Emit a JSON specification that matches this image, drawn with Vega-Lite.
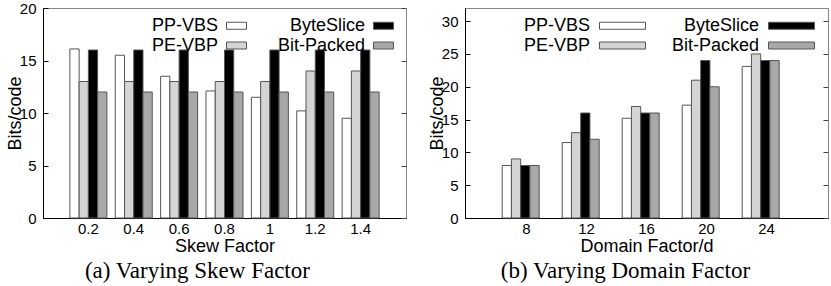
{
  "$schema": "https://vega.github.io/schema/vega-lite/v6.json",
  "padding": {"left": 5, "top": 0, "right": 4, "bottom": 2},
  "background": "white",
  "config": {
    "font": "Liberation Sans",
    "view": {"stroke": "#888888", "strokeWidth": 1},
    "axis": {
      "labelFont": "Liberation Sans", "labelFontSize": 15, "labelColor": "black",
      "titleFont": "Liberation Sans", "titleFontSize": 18, "titleFontWeight": "normal", "titleColor": "black",
      "grid": false, "domainColor": "black", "tickColor": "black"
    },
    "legend": {"labelFont": "Liberation Sans", "labelFontSize": 18, "labelColor": "black"},
    "title": {"font": "Liberation Serif", "fontSize": 23, "fontWeight": "normal", "color": "black"},
    "concat": {"spacing": 20}
  },
  "datasets": {
    "skew": [
      {"skew": "0.2", "series": "PP-VBS", "bits": 16.1},
      {"skew": "0.2", "series": "PE-VBP", "bits": 13},
      {"skew": "0.2", "series": "ByteSlice", "bits": 16},
      {"skew": "0.2", "series": "Bit-Packed", "bits": 12},
      {"skew": "0.4", "series": "PP-VBS", "bits": 15.5},
      {"skew": "0.4", "series": "PE-VBP", "bits": 13},
      {"skew": "0.4", "series": "ByteSlice", "bits": 16},
      {"skew": "0.4", "series": "Bit-Packed", "bits": 12},
      {"skew": "0.6", "series": "PP-VBS", "bits": 13.5},
      {"skew": "0.6", "series": "PE-VBP", "bits": 13},
      {"skew": "0.6", "series": "ByteSlice", "bits": 16},
      {"skew": "0.6", "series": "Bit-Packed", "bits": 12},
      {"skew": "0.8", "series": "PP-VBS", "bits": 12.1},
      {"skew": "0.8", "series": "PE-VBP", "bits": 13},
      {"skew": "0.8", "series": "ByteSlice", "bits": 16},
      {"skew": "0.8", "series": "Bit-Packed", "bits": 12},
      {"skew": "1", "series": "PP-VBS", "bits": 11.5},
      {"skew": "1", "series": "PE-VBP", "bits": 13},
      {"skew": "1", "series": "ByteSlice", "bits": 16},
      {"skew": "1", "series": "Bit-Packed", "bits": 12},
      {"skew": "1.2", "series": "PP-VBS", "bits": 10.2},
      {"skew": "1.2", "series": "PE-VBP", "bits": 14},
      {"skew": "1.2", "series": "ByteSlice", "bits": 16},
      {"skew": "1.2", "series": "Bit-Packed", "bits": 12},
      {"skew": "1.4", "series": "PP-VBS", "bits": 9.5},
      {"skew": "1.4", "series": "PE-VBP", "bits": 14},
      {"skew": "1.4", "series": "ByteSlice", "bits": 16},
      {"skew": "1.4", "series": "Bit-Packed", "bits": 12}
    ],
    "domain": [
      {"d": "8", "series": "PP-VBS", "bits": 8},
      {"d": "8", "series": "PE-VBP", "bits": 9},
      {"d": "8", "series": "ByteSlice", "bits": 8},
      {"d": "8", "series": "Bit-Packed", "bits": 8},
      {"d": "12", "series": "PP-VBS", "bits": 11.5},
      {"d": "12", "series": "PE-VBP", "bits": 13},
      {"d": "12", "series": "ByteSlice", "bits": 16},
      {"d": "12", "series": "Bit-Packed", "bits": 12},
      {"d": "16", "series": "PP-VBS", "bits": 15.2},
      {"d": "16", "series": "PE-VBP", "bits": 17},
      {"d": "16", "series": "ByteSlice", "bits": 16},
      {"d": "16", "series": "Bit-Packed", "bits": 16},
      {"d": "20", "series": "PP-VBS", "bits": 17.2},
      {"d": "20", "series": "PE-VBP", "bits": 21},
      {"d": "20", "series": "ByteSlice", "bits": 24},
      {"d": "20", "series": "Bit-Packed", "bits": 20},
      {"d": "24", "series": "PP-VBS", "bits": 23.1},
      {"d": "24", "series": "PE-VBP", "bits": 25},
      {"d": "24", "series": "ByteSlice", "bits": 24},
      {"d": "24", "series": "Bit-Packed", "bits": 24}
    ]
  },
  "resolve": {"scale": {"color": "independent"}, "legend": {"color": "independent"}},
  "hconcat": [
    {
      "width": 363,
      "height": 210,
      "data": {"name": "skew"},
      "title": {"text": "(a) Varying Skew Factor", "orient": "bottom", "anchor": "middle", "frame": "bounds", "offset": 5, "dx": -9},
      "layer": [
        {
          "mark": {"type": "bar", "stroke": "#555555", "strokeWidth": 1},
          "encoding": {
            "x": {
              "field": "skew", "type": "nominal", "sort": null,
              "scale": {"paddingInner": 0.185, "paddingOuter": 0.5925},
              "axis": {"title": "Skew Factor", "ticks": false, "labelAngle": 0, "labelPadding": 3, "titlePadding": 1}
            },
            "xOffset": {
              "field": "series", "type": "nominal",
              "sort": ["PP-VBS", "PE-VBP", "ByteSlice", "Bit-Packed"],
              "scale": {"paddingInner": 0, "paddingOuter": 0}
            },
            "y": {
              "field": "bits", "type": "quantitative",
              "scale": {"domain": [0, 20], "nice": false},
              "axis": {"title": "Bits/code", "values": [0, 5, 10, 15, 20], "tickSize": -5, "labelPadding": 12, "titlePadding": -5}
            },
            "color": {
              "field": "series", "type": "nominal",
              "scale": {"domain": ["PP-VBS", "ByteSlice", "PE-VBP", "Bit-Packed"], "range": ["#ffffff", "#000000", "#d4d4d4", "#a8a8a8"]},
              "legend": {
                "orient": "none", "legendX": 183, "legendY": 7, "columns": 2, "direction": "horizontal", "title": null,
                "symbolType": "M-1,-0.35H1V0.35H-1Z", "symbolSize": 400, "symbolStrokeColor": "#555555", "symbolStrokeWidth": 1, "symbolOpacity": 1,
                "labelAlign": "right", "labelOffset": -29, "columnPadding": 28, "rowPadding": -2, "padding": 0, "labelLimit": 300
              }
            }
          }
        },
        {
          "mark": {"type": "rule", "opacity": 0},
          "encoding": {
            "y": {
              "field": "bits", "type": "quantitative",
              "axis": {"orient": "right", "title": null, "labels": false, "domain": false, "values": [0, 5, 10, 15, 20], "tickSize": -5, "tickColor": "#444444"}
            }
          }
        }
      ],
      "resolve": {"axis": {"y": "independent"}}
    },
    {
      "width": 363,
      "height": 210,
      "data": {"name": "domain"},
      "title": {"text": "(b) Varying Domain Factor", "orient": "bottom", "anchor": "middle", "frame": "bounds", "offset": 5, "dx": -3},
      "layer": [
        {
          "mark": {"type": "bar", "stroke": "#555555", "strokeWidth": 1},
          "encoding": {
            "x": {
              "field": "d", "type": "nominal", "sort": null,
              "scale": {"paddingInner": 0.19, "paddingOuter": 0.62},
              "axis": {"title": "Domain Factor/d", "ticks": false, "labelAngle": 0, "labelPadding": 3, "titlePadding": 1}
            },
            "xOffset": {
              "field": "series", "type": "nominal",
              "sort": ["PP-VBS", "PE-VBP", "ByteSlice", "Bit-Packed"],
              "scale": {"paddingInner": 0, "paddingOuter": 0}
            },
            "y": {
              "field": "bits", "type": "quantitative",
              "scale": {"domain": [0, 32], "nice": false},
              "axis": {"title": "Bits/code", "values": [0, 5, 10, 15, 20, 25, 30], "tickSize": -5, "labelPadding": 12, "titlePadding": -5}
            },
            "color": {
              "field": "series", "type": "nominal",
              "scale": {"domain": ["PP-VBS", "ByteSlice", "PE-VBP", "Bit-Packed"], "range": ["#ffffff", "#000000", "#d4d4d4", "#a8a8a8"]},
              "legend": {
                "orient": "none", "legendX": 147, "legendY": 7, "columns": 2, "direction": "horizontal", "title": null,
                "symbolType": "M-2.3,-0.35H2.3V0.35H-2.3Z", "symbolSize": 400, "symbolStrokeColor": "#555555", "symbolStrokeWidth": 1, "symbolOpacity": 1,
                "labelAlign": "right", "labelOffset": -43, "columnPadding": 23, "rowPadding": -2, "padding": 0, "labelLimit": 300
              }
            }
          }
        },
        {
          "mark": {"type": "rule", "opacity": 0},
          "encoding": {
            "y": {
              "field": "bits", "type": "quantitative",
              "axis": {"orient": "right", "title": null, "labels": false, "domain": false, "values": [0, 5, 10, 15, 20, 25, 30], "tickSize": -5, "tickColor": "#444444"}
            }
          }
        }
      ],
      "resolve": {"axis": {"y": "independent"}}
    }
  ]
}
